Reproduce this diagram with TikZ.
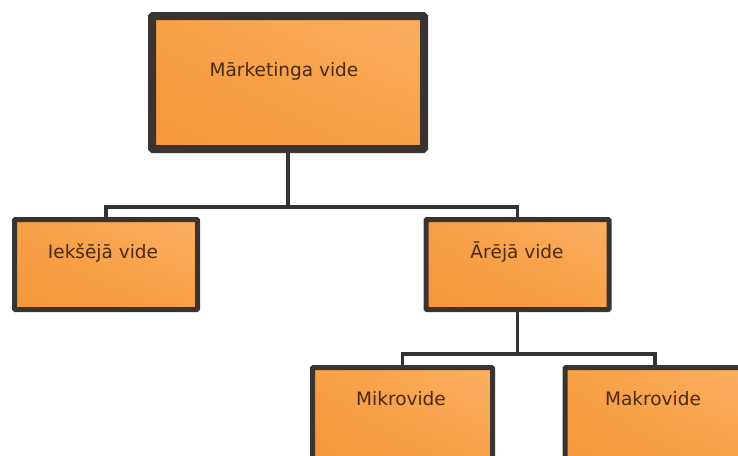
\documentclass[tikz,border=0pt]{standalone}
\usepackage{fontspec}
\setmainfont{DejaVu Sans}
\usetikzlibrary{shadings}
\definecolor{boxbase}{HTML}{F6963A}
\definecolor{boxmid}{HTML}{F8A046}
\definecolor{boxlight}{HTML}{FAB062}
\definecolor{boxedge}{HTML}{3A3430}
\definecolor{linkcol}{HTML}{333333}
\definecolor{txtcol}{HTML}{4A2A0E}
\tikzset{
  orgbox/.style={draw=boxedge, line width=5pt, rectangle, rounded corners=1pt,
    upper left=boxmid, upper right=boxlight, lower left=boxbase, lower right=boxmid,
    inner sep=0pt, minimum width=183pt, minimum height=90pt},
  rootbox/.style={orgbox, line width=8pt, minimum width=272pt, minimum height=133pt},
  leafbox/.style={orgbox, minimum width=180pt, minimum height=100pt},
  boxtext/.style={anchor=base, text=txtcol, font=\fontsize{18.5pt}{22pt}\selectfont, inner sep=0pt},
  link/.style={draw=linkcol, line width=3.5pt}
}
\begin{document}
\begin{tikzpicture}[x=1pt, y=-1pt]
  \useasboundingbox (0,0) rectangle (738,455);
  % junction points of the connectors
  \coordinate (j1) at (288,207);
  \coordinate (j2) at (517.5,354);
  % boxes
  \node[rootbox] (root) at (288,82.5) {};
  \node[orgbox] (ieks) at (106,264.5) {};
  \node[orgbox] (arej) at (517.5,264.5) {};
  \node[leafbox] (mikro) at (402.5,417.5) {};
  \node[leafbox] (makro) at (655,417.5) {};
  % connectors
  \draw[link] (root.south) -- (j1);
  \draw[link] (ieks.north) |- (j1) -| (arej.north);
  \draw[link] (arej.south) -- (j2);
  \draw[link] (mikro.north) |- (j2) -| (makro.north);
  % texts
  \node[boxtext] (troot) at (284,76) {Mārketinga vide};
  \node[boxtext] (tieks) at (103,258.5) {Iekšējā vide};
  \node[boxtext] (tarej) at (517,258.5) {Ārējā vide};
  \node[boxtext] (tmikro) at (401,405) {Mikrovide};
  \node[boxtext] (tmakro) at (653,405) {Makrovide};
\end{tikzpicture}
\end{document}
